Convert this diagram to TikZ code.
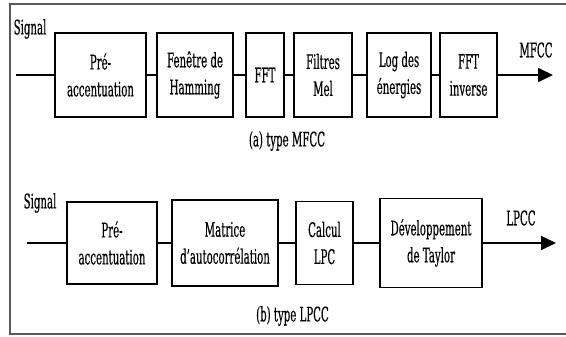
\documentclass[tikz,border=0pt]{standalone}
\usepackage{fontspec}
\setmainfont{DejaVu Serif}[FakeStretch=0.51,FakeBold=0.4]
\usetikzlibrary{arrows.meta}
\begin{document}
\begin{tikzpicture}[x=1pt,y=-1pt,
  blk/.style={draw=black,line width=1.8pt,rectangle,inner sep=0pt,align=center,
    font=\fontsize{20}{27}\selectfont},
  lbl/.style={inner sep=0pt,font=\fontsize{20}{27}\selectfont},
  wire/.style={line width=1.8pt,black},
  arr/.style={wire,-{Triangle[length=15pt,width=14pt]}},
  frame/.style={line width=2pt,draw=black!65}]
\useasboundingbox (0,0) rectangle (566,337);
% frame
\draw[frame] (566,4) -- (10,4) -- (10,334) -- (566,334);
% ---------- row (a)
\node[lbl] (sigA) at (30,29) {Signal};
\coordinate (inA) at (16,75);
\node[blk,minimum width=91pt,minimum height=84pt] (a1) at (100.5,75) {Pré-\\accentuation};
\node[blk,minimum width=76pt,minimum height=84pt] (a2) at (195,75) {Fenêtre de\\Hamming};
\node[blk,minimum width=38pt,minimum height=84pt] (a3) at (265,75) {FFT};
\node[blk,minimum width=58pt,minimum height=84pt] (a4) at (323,75) {Filtres\\Mel};
\node[blk,minimum width=64pt,minimum height=84pt] (a5) at (399,75) {Log des\\énergies};
\node[blk,minimum width=57pt,minimum height=84pt] (a6) at (468.5,75) {FFT\\inverse};
\coordinate (outA) at (553,75);
\node[lbl] (mfcc) at (536,50) {MFCC};
\node[lbl] (capA) at (287,141) {(a) type MFCC};
\draw[wire] (inA) -- (a1);
\draw[wire] (a1) -- (a2);
\draw[wire] (a2) -- (a3);
\draw[wire] (a3) -- (a4);
\draw[wire] (a4) -- (a5);
\draw[wire] (a5) -- (a6);
\draw[arr] (a6) -- (outA);
% ---------- row (b)
\node[lbl] (sigB) at (40,203) {Signal};
\coordinate (inB) at (27,243);
\node[blk,minimum width=90pt,minimum height=82pt] (b1) at (112,243) {Pré-\\accentuation};
\node[blk,minimum width=106pt,minimum height=86pt] (b2) at (225,243) {Matrice\\d'autocorrélation};
\node[blk,minimum width=57pt,minimum height=83pt] (b3) at (324.5,243) {Calcul\\LPC};
\node[blk,minimum width=102pt,minimum height=89pt] (b4) at (431,243) {Développement\\de Taylor};
\coordinate (outB) at (556,243);
\node[lbl] (lpcc) at (521,218) {LPCC};
\node[lbl] (capB) at (292.5,316) {(b) type LPCC};
\draw[wire] (inB) -- (b1);
\draw[wire] (b1) -- (b2);
\draw[wire] (b2) -- (b3);
\draw[wire] (b3) -- (b4);
\draw[arr] (b4) -- (outB);
\end{tikzpicture}
\end{document}
